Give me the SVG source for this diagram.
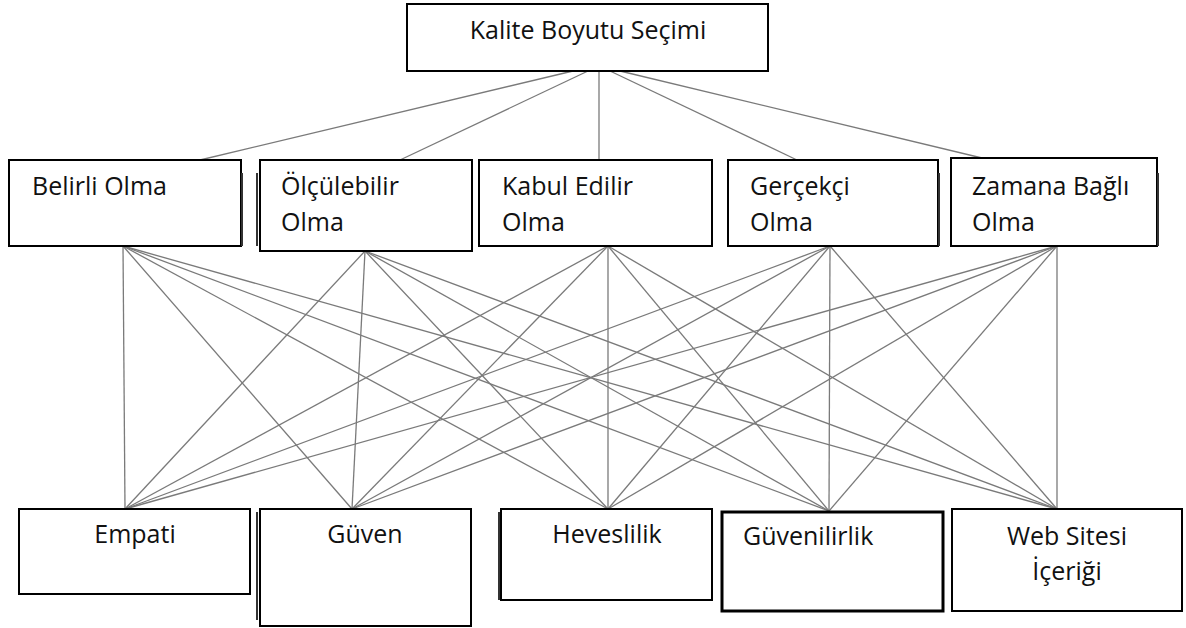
<svg xmlns="http://www.w3.org/2000/svg" width="1186" height="628" viewBox="0 0 1186 628">
<style>
.box{fill:#fff;stroke:#000;stroke-width:2}
.sh{stroke:#333;stroke-width:2;fill:none}
.t{font-family:"Open Sans","Liberation Sans",sans-serif;font-size:25px;fill:#111}
.m{text-anchor:middle}
.c line{stroke:#7a7a7a;stroke-width:1.3}
</style>
<rect width="1186" height="628" fill="#fff"/>
<g class="c" id="connectors">
<line x1="573" y1="71" x2="200" y2="160"/>
<line x1="588" y1="71" x2="400" y2="160"/>
<line x1="599" y1="71" x2="599" y2="160"/>
<line x1="610" y1="71" x2="797" y2="160"/>
<line x1="620" y1="71" x2="982" y2="158"/>
<line x1="123" y1="246" x2="125" y2="509"/>
<line x1="123" y1="246" x2="352" y2="509"/>
<line x1="123" y1="246" x2="608" y2="509"/>
<line x1="123" y1="246" x2="829" y2="511"/>
<line x1="123" y1="246" x2="1057" y2="509"/>
<line x1="365" y1="251" x2="125" y2="509"/>
<line x1="365" y1="251" x2="352" y2="509"/>
<line x1="365" y1="251" x2="608" y2="509"/>
<line x1="365" y1="251" x2="829" y2="511"/>
<line x1="365" y1="251" x2="1057" y2="509"/>
<line x1="608" y1="246" x2="125" y2="509"/>
<line x1="608" y1="246" x2="352" y2="509"/>
<line x1="608" y1="246" x2="608" y2="509"/>
<line x1="608" y1="246" x2="829" y2="511"/>
<line x1="608" y1="246" x2="1057" y2="509"/>
<line x1="830" y1="246" x2="125" y2="509"/>
<line x1="830" y1="246" x2="352" y2="509"/>
<line x1="830" y1="246" x2="608" y2="509"/>
<line x1="830" y1="246" x2="829" y2="511"/>
<line x1="830" y1="246" x2="1057" y2="509"/>
<line x1="1057" y1="246" x2="125" y2="509"/>
<line x1="1057" y1="246" x2="352" y2="509"/>
<line x1="1057" y1="246" x2="608" y2="509"/>
<line x1="1057" y1="246" x2="829" y2="511"/>
<line x1="1057" y1="246" x2="1057" y2="509"/>
</g>
<g id="kalite">
<rect class="box" x="407" y="4" width="361" height="67"/>
<text class="t m" x="588" y="39">Kalite Boyutu Seçimi</text>
</g>
<g id="belirli">
<rect class="box" x="9" y="160" width="232" height="86"/>
<line class="sh" x1="242" y1="173" x2="242" y2="246"/>
<text class="t" x="32" y="195">Belirli Olma</text>
</g>
<g id="olculebilir">
<line class="sh" x1="257" y1="173" x2="257" y2="246"/>
<rect class="box" x="260" y="160" width="212" height="91"/>
<text class="t" x="281" y="195">Ölçülebilir</text>
<text class="t" x="281" y="231">Olma</text>
</g>
<g id="kabul">
<rect class="box" x="479" y="160" width="233" height="86"/>
<text class="t" x="502" y="195">Kabul Edilir</text>
<text class="t" x="502" y="231">Olma</text>
</g>
<g id="gercekci">
<rect class="box" x="728" y="160" width="210" height="86"/>
<line class="sh" x1="939" y1="173" x2="939" y2="246"/>
<text class="t" x="750" y="195">Gerçekçi</text>
<text class="t" x="750" y="231">Olma</text>
</g>
<g id="zamana">
<rect class="box" x="951" y="158" width="206" height="88"/>
<line class="sh" x1="1158" y1="173" x2="1158" y2="246"/>
<text class="t" x="972" y="195">Zamana Bağlı</text>
<text class="t" x="972" y="231">Olma</text>
</g>
<g id="empati">
<rect class="box" x="19" y="509" width="231" height="85"/>
<text class="t m" x="135" y="543">Empati</text>
</g>
<g id="guven">
<line class="sh" x1="257" y1="512" x2="257" y2="620"/>
<rect class="box" x="260" y="509" width="211" height="117"/>
<text class="t m" x="365" y="543">Güven</text>
</g>
<g id="heveslilik">
<line class="sh" x1="499" y1="512" x2="499" y2="600"/>
<rect class="box" x="501" y="509" width="211" height="91"/>
<text class="t m" x="607" y="543">Heveslilik</text>
</g>
<g id="guvenilirlik">
<rect class="box" x="722" y="512" width="221" height="99" style="stroke-width:3"/>
<text class="t" x="743" y="545">Güvenilirlik</text>
</g>
<g id="website">
<rect class="box" x="952" y="509" width="230" height="102"/>
<text class="t m" x="1067" y="545">Web Sitesi</text>
<text class="t m" x="1067" y="580">İçeriği</text>
</g>
</svg>
